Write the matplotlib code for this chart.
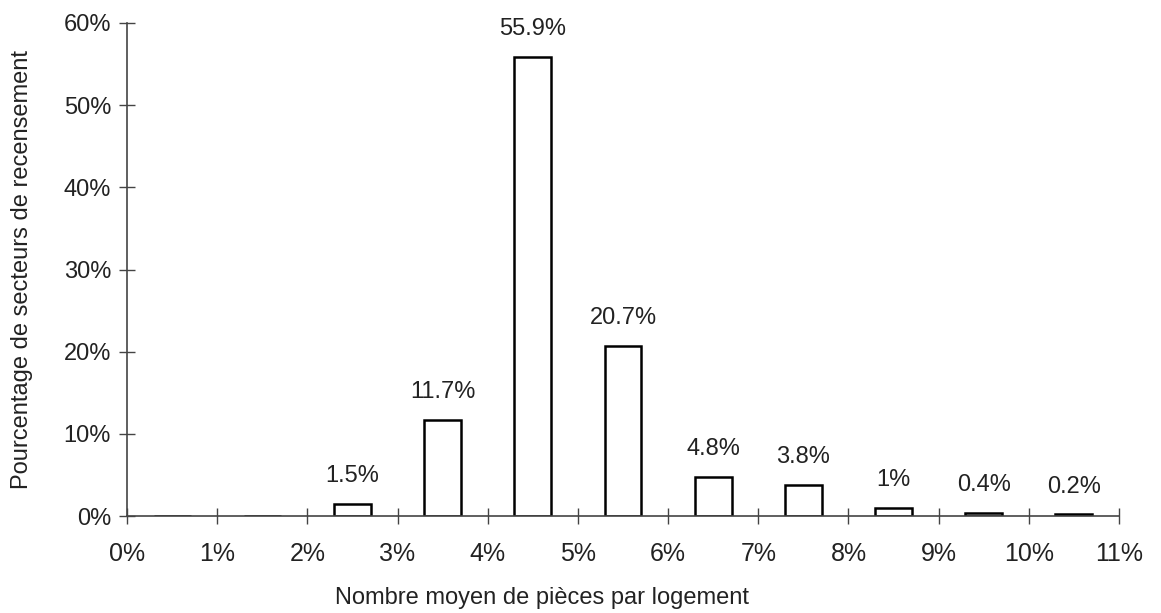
import numpy as np
import matplotlib.pyplot as plt

# ---------------------------------------------------------------------------
# Data
# ---------------------------------------------------------------------------
bin_labels = ['0%', '1%', '2%', '3%', '4%', '5%', '6%', '7%', '8%', '9%',
              '10%', '11%']
values = [0.0, 0.0, 1.5, 11.7, 55.9, 20.7, 4.8, 3.8, 1.0, 0.4, 0.2]
value_labels = ['', '', '1.5%', '11.7%', '55.9%', '20.7%', '4.8%', '3.8%',
                '1%', '0.4%', '0.2%']
y_ticks = [0, 10, 20, 30, 40, 50, 60]

plt.rcParams['font.family'] = ['Liberation Sans', 'DejaVu Sans']

fig = plt.figure(figsize=(11.61, 6.13), dpi=100)
ax = fig.add_axes([0.1094, 0.1582, 0.8544, 0.8043])

n = len(values)
centers = np.arange(n) + 0.5
bars = ax.bar(centers, values, width=0.41, facecolor='white',
              edgecolor='black', linewidth=1.8, zorder=3)

for b, lab in zip(bars, value_labels):
    if not lab:
        continue
    ax.annotate(lab, (b.get_x() + b.get_width() / 2, b.get_height()),
                xytext=(0, 12), textcoords='offset points',
                ha='center', va='bottom', fontsize=17, color='#222222')

ax.set_xlim(0, n)
ax.set_ylim(0, 60)
ax.set_xticks(np.arange(n + 1))
ax.set_xticklabels(bin_labels, fontsize=18, color='#222222')
ax.set_yticks(y_ticks)
ax.set_yticklabels([f'{v}%' for v in y_ticks], fontsize=17, color='#222222')

for s in ['top', 'right']:
    ax.spines[s].set_visible(False)
for s in ['left', 'bottom']:
    ax.spines[s].set_color('#444444')
    ax.spines[s].set_linewidth(1.2)
ax.spines['bottom'].set_zorder(4)

ax.tick_params(axis='both', direction='inout', length=11, width=1.0,
               color='#444444')
ax.tick_params(axis='x', pad=13)
ax.tick_params(axis='y', pad=6)

ax.set_ylabel('Pourcentage de secteurs de recensement', fontsize=17,
              color='#222222', labelpad=22)
fig.text(0.467, 0.0245, 'Nombre moyen de pièces par logement',
         ha='center', va='center', fontsize=17, color='#222222')

fig.savefig('out.png', dpi=100)
